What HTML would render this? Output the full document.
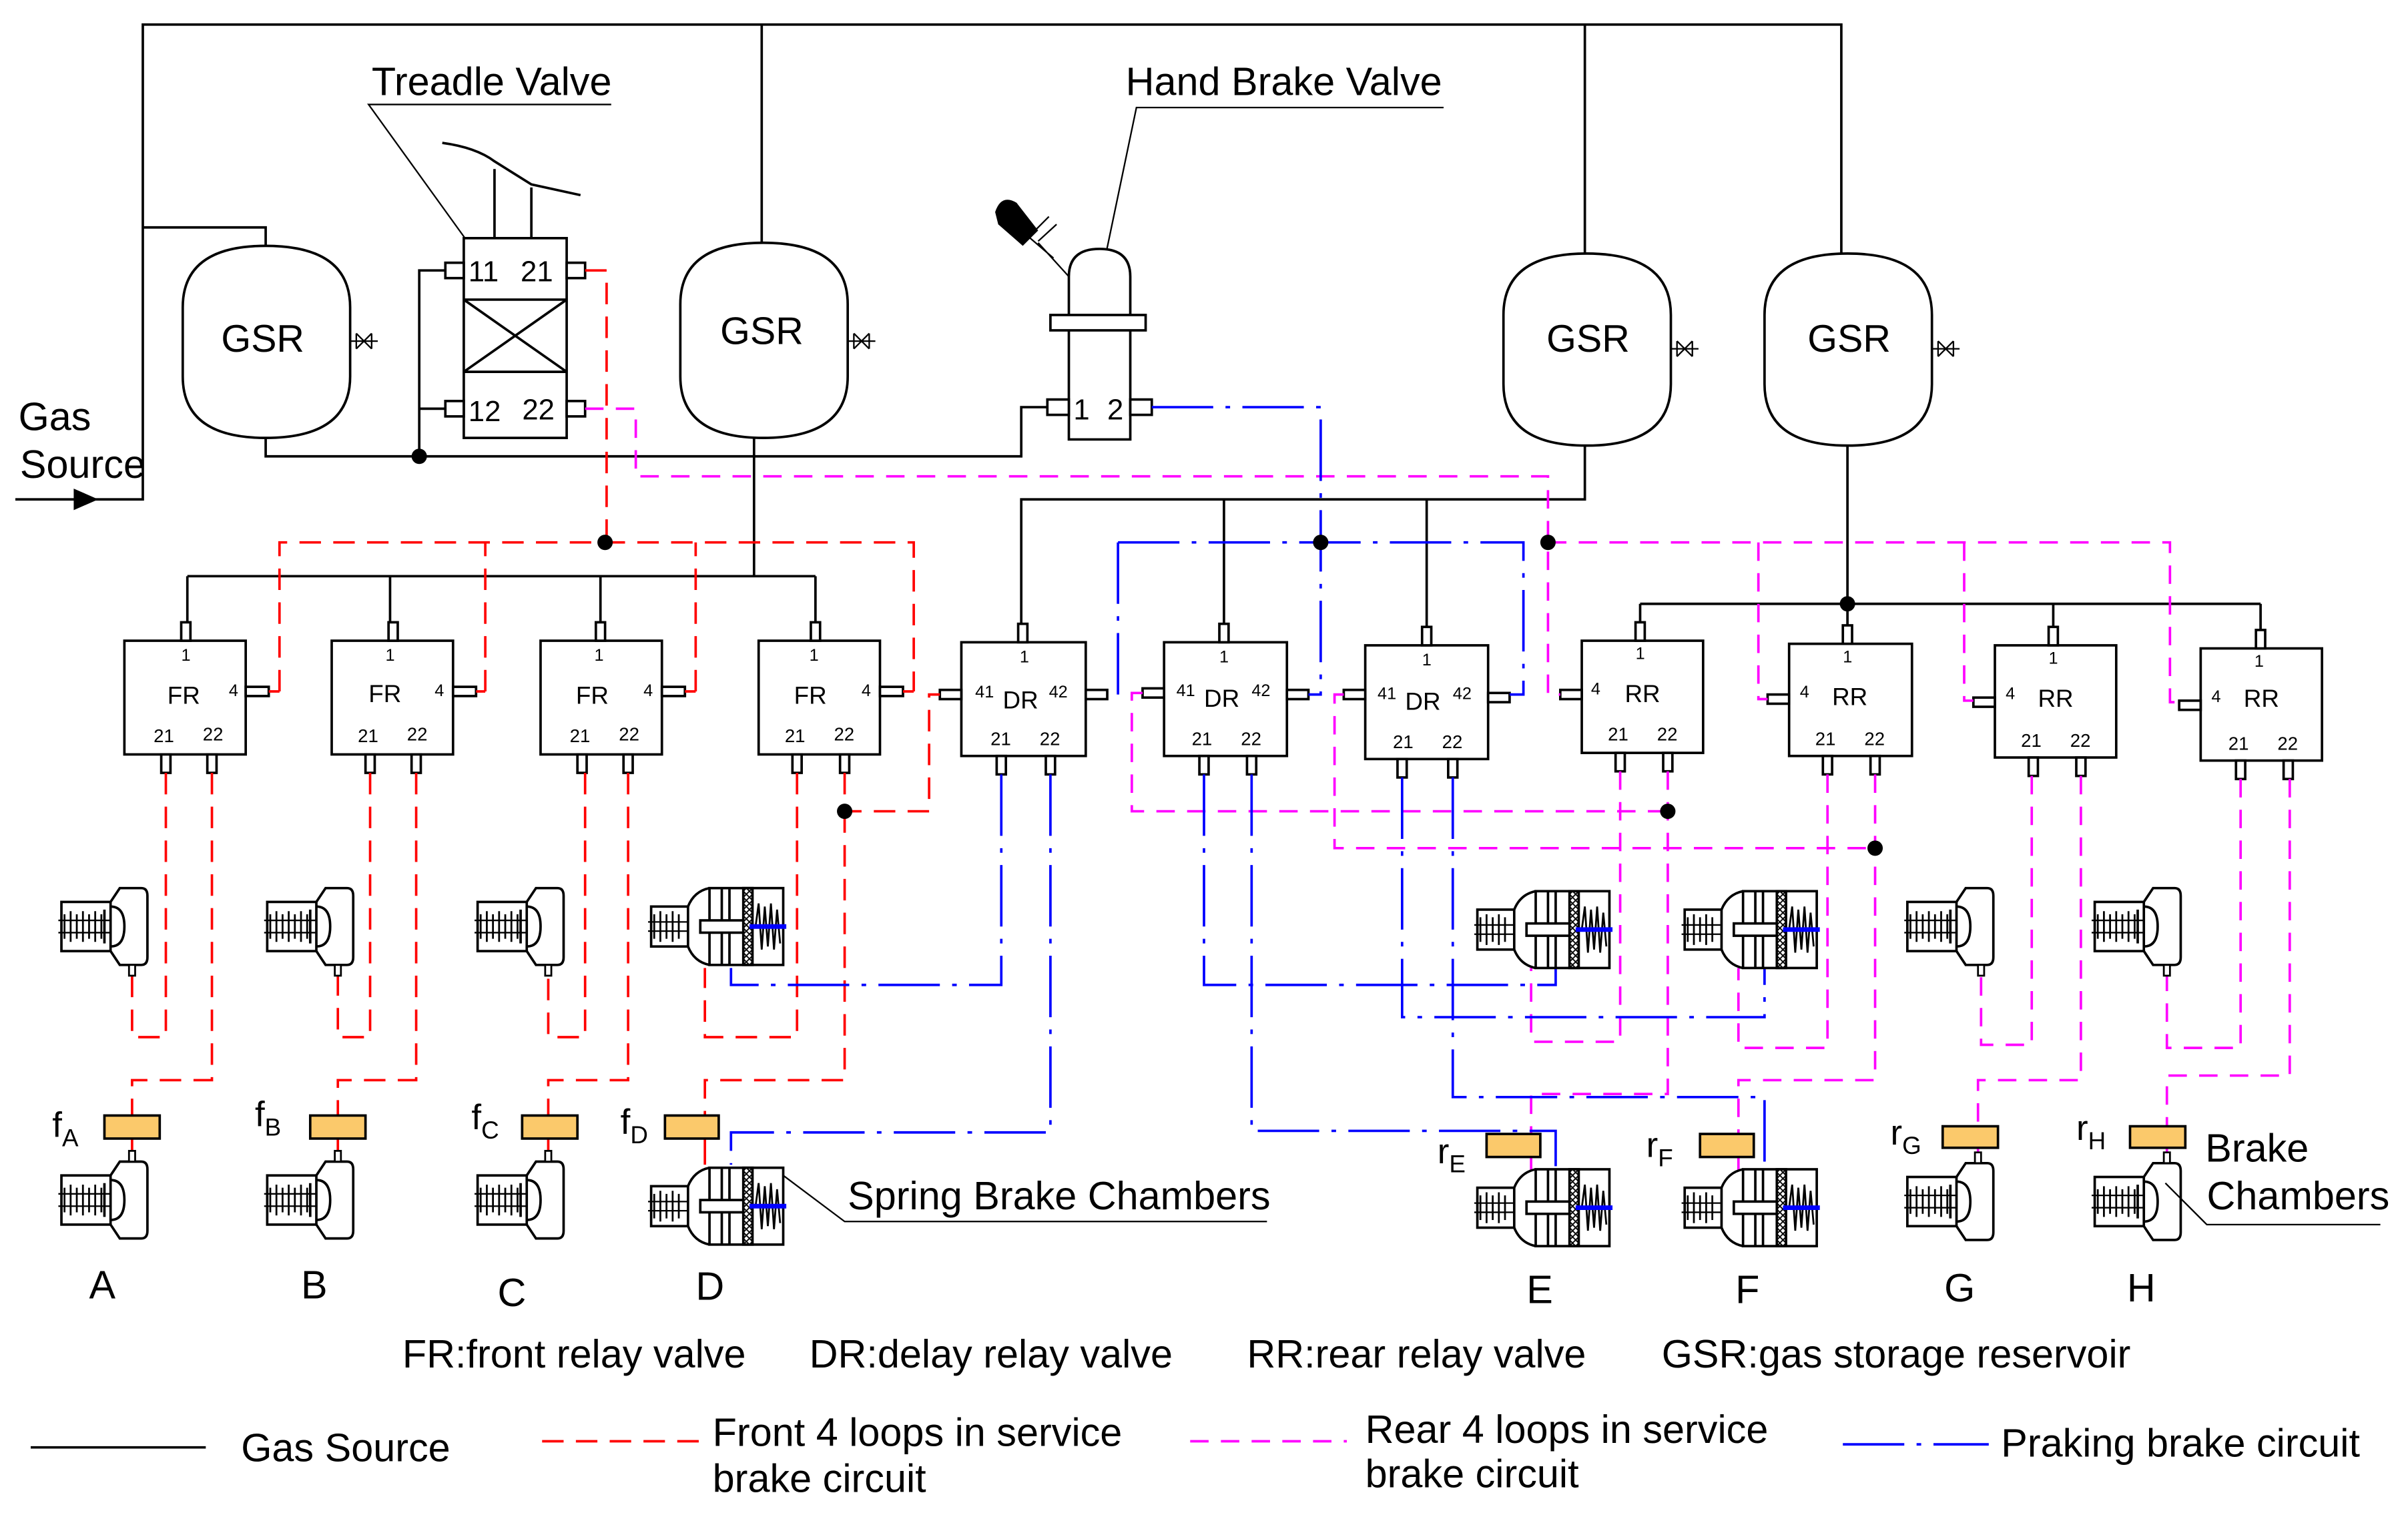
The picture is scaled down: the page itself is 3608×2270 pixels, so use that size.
<!DOCTYPE html>
<html><head><meta charset="utf-8">
<style>
html,body{margin:0;padding:0;background:#fff;}
svg{display:block;}
text{font-family:"Liberation Sans",Arial,sans-serif;fill:#000;}
</style></head>
<body>
<svg width="3608" height="2270" viewBox="0 0 1568 986" preserveAspectRatio="none" xmlns="http://www.w3.org/2000/svg">
<defs>
<pattern id="hatch" width="4" height="4" patternUnits="userSpaceOnUse">
<rect width="4" height="4" fill="#fff"/><path d="M0,0 L4,4 M4,0 L0,4" stroke="#000" stroke-width="0.8"/>
</pattern>
<g id="bc" fill="none" stroke="#000" stroke-width="1.6">
<rect x="2" y="9" width="32" height="32"/>
<path d="M34,9 L40,0 L54,0 Q58,0 58,5 L58,45 Q58,50 54,50 L40,50 L34,41"/>
<path d="M34,12 Q43,12 43,25 Q43,38 34,38"/>
<path d="M30,14 L30,36"/>
<path d="M0,21 H34 M0,29 H34" stroke-width="1"/>
<path d="M4,17 V33 M8,15 V35 M12,17 V33 M16,15 V35 M20,17 V33 M24,15 V35 M28,17 V33" stroke-width="1.2"/>
</g>
<g id="sbc" fill="none" stroke="#000" stroke-width="1.6">
<rect x="2" y="12" width="24" height="26"/>
<path d="M26,12 Q30,2 40,0 M26,38 Q30,48 40,50"/>
<rect x="40" y="0" width="48" height="50"/>
<path d="M48,0 V50 M53,0 V50"/>
<rect x="62" y="0" width="6" height="50" fill="url(#hatch)"/>
<rect x="34" y="21" width="28" height="8" fill="#fff"/>
<path d="M0,22 H26 M0,28 H26" stroke-width="1"/>
<path d="M4,17 V33 M8,15 V35 M12,17 V33 M16,15 V35 M20,17 V33" stroke-width="1.2"/>
<path d="M70,25 L72,10 L74,40 L76,12 L78,38 L80,10 L82,40 L84,14 L86,36" stroke-width="1.2"/>
<path d="M66,25 H90" stroke="#0000ff" stroke-width="3"/>
</g>
</defs>

<g fill="none" stroke="#000" stroke-width="1.6">
<path d="M10,325 H93 V16 H1199 V165"/>
<path d="M93,148 H173 V160"/>
<path d="M496,16 V160"/>
<path d="M1032,16 V165"/>
<path d="M173,285 V297 H665 V265 H682"/>
<path d="M290,176 H273 V297 M273,266 H290"/>
<path d="M491,285 V375 M122,375 H531 M122,375 V405 M254,375 V405 M391,375 V405 M531,375 V405"/>
<path d="M1032,290 V325 H665 V406 M797,325 V406 M929,325 V408"/>
<path d="M1203,290 V393 M1068,393 H1472 M1068,393 V405 M1203,393 V407 M1337,393 V408 M1472,393 V410"/>
<path d="M398,68 H240 L310,165" stroke-width="1"/>
<path d="M940,70 H740 L716,185" stroke-width="1"/>
<path d="M825,795 H550 L510,765" stroke-width="1"/>
<path d="M1550,797 H1437 L1410,770" stroke-width="1"/>
</g>
<polygon points="48,318 64,325 48,332" fill="#000"/>

<g fill="#fff" stroke="#000" stroke-width="1.6">
<path d="M119,200 Q119,160 173,160 Q228,160 228,200 L228,245 Q228,285 173,285 Q119,285 119,245 Z"/>
<path d="M443,198 Q443,158 497,158 Q552,158 552,198 L552,245 Q552,285 497,285 Q443,285 443,245 Z"/>
<path d="M979,205 Q979,165 1033,165 Q1088,165 1088,205 L1088,250 Q1088,290 1033,290 Q979,290 979,250 Z"/>
<path d="M1149,205 Q1149,165 1203,165 Q1258,165 1258,205 L1258,250 Q1258,290 1203,290 Q1149,290 1149,250 Z"/>
</g>
<g fill="none" stroke="#000" stroke-width="1">
<path d="M228,222 H246 M232,217 V227 M242,217 V227 M232,217 L242,227 M242,217 L232,227"/>
<path d="M552,222 H570 M556,217 V227 M566,217 V227 M556,217 L566,227 M566,217 L556,227"/>
<path d="M1088,227 H1106 M1092,222 V232 M1102,222 V232 M1092,222 L1102,232 M1102,222 L1092,232"/>
<path d="M1258,227 H1276 M1262,222 V232 M1272,222 V232 M1262,222 L1272,232 M1272,222 L1262,232"/>
</g>
<g font-size="25">
<text x="144" y="229">GSR</text>
<text x="469" y="224">GSR</text>
<text x="1007" y="229">GSR</text>
<text x="1177" y="229">GSR</text>
</g>

<g fill="#fff" stroke="#000" stroke-width="1.6">
<path d="M322,155 V110 M346,155 V122" fill="none"/>
<path d="M288,93 Q310,96 322,105 L346,120 L378,127" fill="none"/>
<rect x="302" y="155" width="67" height="130"/>
<path d="M302,195 H369 M302,242 H369 M302,195 L369,242 M369,195 L302,242" fill="none"/>
<rect x="290" y="171" width="12" height="10"/>
<rect x="369" y="171" width="12" height="10"/>
<rect x="290" y="261" width="12" height="10"/>
<rect x="369" y="261" width="12" height="10"/>
</g>
<g font-size="19">
<text x="305" y="183">11</text><text x="339" y="183">21</text>
<text x="305" y="274">12</text><text x="340" y="273">22</text>
</g>

<g fill="#fff" stroke="#000" stroke-width="1.6">
<path d="M696,286 V180 Q696,162 716,162 Q736,162 736,180 V286 Z"/>
<rect x="684" y="205" width="62" height="10"/>
<rect x="682" y="260" width="14" height="10"/>
<rect x="736" y="260" width="14" height="10"/>
<path d="M696,180 L676,158 M686,168 L665,150" fill="none" stroke-width="1"/>
<path d="M672,152 L683,141 M676,157 L688,146" fill="none" stroke-width="1"/>
</g>
<path d="M648,138 Q652,126 662,132 L676,150 L666,160 L650,146 Z" fill="#000"/>
<g font-size="19"><text x="699" y="273">1</text><text x="721" y="273">2</text></g>

<g fill="#fff" stroke="#000" stroke-width="1.6">
<g transform="translate(81,417)"><rect width="79" height="74"/><rect x="37" y="-12" width="6" height="12"/><rect x="24" y="74" width="6" height="12"/><rect x="54" y="74" width="6" height="12"/><rect x="79" y="30" width="15" height="6"/></g>
<g transform="translate(216,417)"><rect width="79" height="74"/><rect x="37" y="-12" width="6" height="12"/><rect x="22" y="74" width="6" height="12"/><rect x="52" y="74" width="6" height="12"/><rect x="79" y="30" width="15" height="6"/></g>
<g transform="translate(352,417)"><rect width="79" height="74"/><rect x="36" y="-12" width="6" height="12"/><rect x="24" y="74" width="6" height="12"/><rect x="54" y="74" width="6" height="12"/><rect x="79" y="30" width="15" height="6"/></g>
<g transform="translate(494,417)"><rect width="79" height="74"/><rect x="34" y="-12" width="6" height="12"/><rect x="22" y="74" width="6" height="12"/><rect x="53" y="74" width="6" height="12"/><rect x="79" y="30" width="15" height="6"/></g>
<g transform="translate(626,418)"><rect width="81" height="74"/><rect x="37" y="-12" width="6" height="12"/><rect x="23" y="74" width="6" height="12"/><rect x="55" y="74" width="6" height="12"/><rect x="-14" y="31" width="14" height="6"/><rect x="81" y="31" width="14" height="6"/></g>
<g transform="translate(758,418)"><rect width="80" height="74"/><rect x="36" y="-12" width="6" height="12"/><rect x="23" y="74" width="6" height="12"/><rect x="54" y="74" width="6" height="12"/><rect x="-14" y="30" width="14" height="6"/><rect x="80" y="31" width="14" height="6"/></g>
<g transform="translate(889,420)"><rect width="80" height="74"/><rect x="37" y="-12" width="6" height="12"/><rect x="21" y="74" width="6" height="12"/><rect x="54" y="74" width="6" height="12"/><rect x="-14" y="29" width="14" height="6"/><rect x="80" y="31" width="14" height="6"/></g>
<g transform="translate(1030,417)"><rect width="79" height="73"/><rect x="35" y="-12" width="6" height="12"/><rect x="22" y="73" width="6" height="12"/><rect x="53" y="73" width="6" height="12"/><rect x="-14" y="32" width="14" height="6"/></g>
<g transform="translate(1165,419)"><rect width="80" height="73"/><rect x="35" y="-12" width="6" height="12"/><rect x="22" y="73" width="6" height="12"/><rect x="53" y="73" width="6" height="12"/><rect x="-14" y="33" width="14" height="6"/></g>
<g transform="translate(1299,420)"><rect width="79" height="73"/><rect x="35" y="-12" width="6" height="12"/><rect x="22" y="73" width="6" height="12"/><rect x="53" y="73" width="6" height="12"/><rect x="-14" y="34" width="14" height="6"/></g>
<g transform="translate(1433,422)"><rect width="79" height="73"/><rect x="36" y="-12" width="6" height="12"/><rect x="23" y="73" width="6" height="12"/><rect x="54" y="73" width="6" height="12"/><rect x="-14" y="34" width="14" height="6"/></g>
</g>
<g font-size="11">
<text x="118" y="430">1</text><text x="149" y="453">4</text>
<text x="251" y="430">1</text><text x="283" y="453">4</text>
<text x="387" y="430">1</text><text x="419" y="453">4</text>
<text x="527" y="430">1</text><text x="561" y="453">4</text>
<text x="664" y="431">1</text><text x="635" y="454">41</text><text x="683" y="454">42</text>
<text x="794" y="431">1</text><text x="766" y="453">41</text><text x="815" y="453">42</text>
<text x="926" y="433">1</text><text x="897" y="455">41</text><text x="946" y="455">42</text>
<text x="1065" y="429">1</text><text x="1036" y="452">4</text>
<text x="1200" y="431">1</text><text x="1172" y="454">4</text>
<text x="1334" y="432">1</text><text x="1306" y="455">4</text>
<text x="1468" y="434">1</text><text x="1440" y="457">4</text>
</g>
<g font-size="16">
<text x="109" y="458">FR</text><text x="240" y="457">FR</text><text x="375" y="458">FR</text><text x="517" y="458">FR</text>
<text x="653" y="461">DR</text><text x="784" y="460">DR</text><text x="915" y="462">DR</text>
<text x="1058" y="457">RR</text><text x="1193" y="459">RR</text><text x="1327" y="460">RR</text><text x="1461" y="460">RR</text>
</g>
<g font-size="12">
<text x="100" y="483">21</text><text x="132" y="482">22</text>
<text x="233" y="483">21</text><text x="265" y="482">22</text>
<text x="371" y="483">21</text><text x="403" y="482">22</text>
<text x="511" y="483">21</text><text x="543" y="482">22</text>
<text x="645" y="485">21</text><text x="677" y="485">22</text>
<text x="776" y="485">21</text><text x="808" y="485">22</text>
<text x="907" y="487">21</text><text x="939" y="487">22</text>
<text x="1047" y="482">21</text><text x="1079" y="482">22</text>
<text x="1182" y="485">21</text><text x="1214" y="485">22</text>
<text x="1316" y="486">21</text><text x="1348" y="486">22</text>
<text x="1451" y="488">21</text><text x="1483" y="488">22</text>
</g>

<g fill="none" stroke="#ff0000" stroke-width="1.6" stroke-dasharray="14 8">
<path d="M381,176 H395 V353"/>
<path d="M182,450 V353 H595 V450"/>
<path d="M316,450 V353"/>
<path d="M453,450 V353"/>
<path d="M550,503 V528 H605 V452 H612"/>
<path d="M108,503 V675 H86 V634"/>
<path d="M138,503 V703 H86 V726"/>
<path d="M241,503 V675 H220 V634"/>
<path d="M271,503 V703 H220 V726"/>
<path d="M381,503 V675 H357 V634"/>
<path d="M409,503 V703 H357 V726"/>
<path d="M519,503 V675 H459 V630"/>
<path d="M550,528 V703 H459 V726"/>
</g>
<g stroke="#ff0000" stroke-width="1.6">
<path d="M175,450 H182 M310,450 H316 M446,450 H453 M588,450 H595"/>
<path d="M86,741 V753 M220,741 V753 M357,741 V753 M459,741 V758"/>
</g>

<g fill="none" stroke="#ff00ff" stroke-width="1.6" stroke-dasharray="12 8">
<path d="M381,266 H414 V310 H1008 V452 H1016"/>
<path d="M1008,353 H1413 V457 H1419"/>
<path d="M1145,353 V455 H1151"/>
<path d="M1279,353 V456 H1285"/>
<path d="M744,451 H737 V528 H1086"/>
<path d="M875,452 H869 V552 H1221"/>
<path d="M1055,502 V678 H997 V630"/>
<path d="M1086,502 V712 H997 V738"/>
<path d="M1190,504 V682 H1132 V630"/>
<path d="M1221,504 V703 H1132 V738"/>
<path d="M1323,505 V680 H1290 V632"/>
<path d="M1355,505 V703 H1288 V733"/>
<path d="M1459,507 V682 H1411 V632"/>
<path d="M1491,507 V700 H1411 V733"/>
</g>
<g stroke="#ff00ff" stroke-width="1.6">
<path d="M997,753 V762 M1132,753 V762 M1288,747 V757 M1411,747 V757"/>
</g>

<g fill="none" stroke="#0000ff" stroke-width="1.6" stroke-dasharray="40 8 3 8">
<path d="M750,265 H860 V452 H852"/>
<path d="M728,353 H992 V452 H983"/>
<path d="M728,353 V452 H721"/>
<path d="M652,504 V641 H476 V630"/>
<path d="M684,504 V737 H476 V758"/>
<path d="M784,504 V641 H1013 V630"/>
<path d="M815,504 V736 H1013 V760"/>
<path d="M913,506 V662 H1149 V630"/>
<path d="M946,506 V714 H1149 V760"/>
</g>

<g fill="#000">
<circle cx="273" cy="297" r="5"/>
<circle cx="394" cy="353" r="5"/>
<circle cx="550" cy="528" r="5"/>
<circle cx="860" cy="353" r="5"/>
<circle cx="1008" cy="353" r="5"/>
<circle cx="1203" cy="393" r="5"/>
<circle cx="1086" cy="528" r="5"/>
<circle cx="1221" cy="552" r="5"/>
</g>

<g>
<use href="#bc" x="38" y="578"/><rect x="84" y="628" width="4" height="7" fill="#fff" stroke="#000" stroke-width="1.2"/>
<use href="#bc" x="172" y="578"/><rect x="218" y="628" width="4" height="7" fill="#fff" stroke="#000" stroke-width="1.2"/>
<use href="#bc" x="309" y="578"/><rect x="355" y="628" width="4" height="7" fill="#fff" stroke="#000" stroke-width="1.2"/>
<use href="#sbc" x="422" y="578"/>
<use href="#sbc" x="960" y="580"/>
<use href="#sbc" x="1095" y="580"/>
<use href="#bc" x="1240" y="578"/><rect x="1288" y="628" width="4" height="7" fill="#fff" stroke="#000" stroke-width="1.2"/>
<use href="#bc" x="1362" y="578"/><rect x="1409" y="628" width="4" height="7" fill="#fff" stroke="#000" stroke-width="1.2"/>
<use href="#bc" x="38" y="756"/><rect x="84" y="749" width="4" height="7" fill="#fff" stroke="#000" stroke-width="1.2"/>
<use href="#bc" x="172" y="756"/><rect x="218" y="749" width="4" height="7" fill="#fff" stroke="#000" stroke-width="1.2"/>
<use href="#bc" x="309" y="756"/><rect x="355" y="749" width="4" height="7" fill="#fff" stroke="#000" stroke-width="1.2"/>
<use href="#sbc" x="422" y="760"/>
<use href="#sbc" x="960" y="761"/>
<use href="#sbc" x="1095" y="761"/>
<use href="#bc" x="1240" y="757"/><rect x="1286" y="750" width="4" height="7" fill="#fff" stroke="#000" stroke-width="1.2"/>
<use href="#bc" x="1362" y="757"/><rect x="1409" y="750" width="4" height="7" fill="#fff" stroke="#000" stroke-width="1.2"/>
</g>

<g fill="#fbc96b" stroke="#000" stroke-width="1.6">
<rect x="68" y="726" width="36" height="15"/>
<rect x="202" y="726" width="36" height="15"/>
<rect x="340" y="726" width="36" height="15"/>
<rect x="433" y="726" width="35" height="15"/>
<rect x="968" y="738" width="35" height="15"/>
<rect x="1107" y="738" width="35" height="15"/>
<rect x="1265" y="733" width="36" height="14"/>
<rect x="1387" y="733" width="36" height="14"/>
</g>
<g font-size="23">
<text x="34" y="740">f<tspan font-size="16" dy="6">A</tspan></text>
<text x="166" y="733">f<tspan font-size="16" dy="6">B</tspan></text>
<text x="307" y="735">f<tspan font-size="16" dy="6">C</tspan></text>
<text x="404" y="738">f<tspan font-size="16" dy="6">D</tspan></text>
<text x="936" y="757">r<tspan font-size="16" dy="6">E</tspan></text>
<text x="1072" y="753">r<tspan font-size="16" dy="6">F</tspan></text>
<text x="1231" y="745">r<tspan font-size="16" dy="6">G</tspan></text>
<text x="1352" y="742">r<tspan font-size="16" dy="6">H</tspan></text>
</g>

<g font-size="25.8">
<text x="242" y="62">Treadle Valve</text>
<text x="733" y="62">Hand Brake Valve</text>
<text x="12" y="280">Gas</text>
<text x="13" y="311">Source</text>
<text x="552" y="787">Spring Brake Chambers</text>
<text x="1436" y="756">Brake</text>
<text x="1437" y="787">Chambers</text>
<text x="58" y="845">A</text><text x="196" y="845">B</text><text x="324" y="850">C</text><text x="453" y="846">D</text>
<text x="994" y="848">E</text><text x="1130" y="848">F</text><text x="1266" y="847">G</text><text x="1385" y="847">H</text>
<text x="262" y="890">FR:front relay valve</text>
<text x="527" y="890">DR:delay relay valve</text>
<text x="812" y="890">RR:rear relay valve</text>
<text x="1082" y="890">GSR:gas storage reservoir</text>
<text x="157" y="951">Gas Source</text>
<text x="464" y="941">Front 4 loops in service</text>
<text x="464" y="971">brake circuit</text>
<text x="889" y="939">Rear 4 loops in service</text>
<text x="889" y="968">brake circuit</text>
<text x="1303" y="948">Praking brake circuit</text>
</g>
<g fill="none" stroke-width="1.6">
<path d="M20,942 H134" stroke="#000"/>
<path d="M353,938 H455" stroke="#ff0000" stroke-dasharray="14 8"/>
<path d="M775,938 H877" stroke="#ff00ff" stroke-dasharray="12 8"/>
<path d="M1200,940 H1295" stroke="#0000ff" stroke-dasharray="40 8 3 8"/>
</g>
</svg>
</body></html>
